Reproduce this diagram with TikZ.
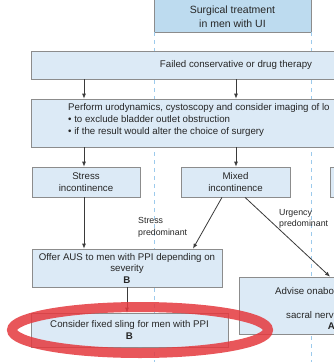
\documentclass[tikz,border=0pt]{standalone}
\usepackage{fontspec}
\setmainfont{Liberation Sans}
\usetikzlibrary{arrows.meta,calc}
\definecolor{boxfill}{HTML}{DCEAF6}
\definecolor{topfill}{HTML}{BDDBEF}
\definecolor{boxline}{HTML}{8C8C8C}
\definecolor{guideblue}{HTML}{9CCAEC}
\definecolor{txtcol}{HTML}{262626}
\definecolor{arrcol}{HTML}{3A3A3A}
\definecolor{hlred}{HTML}{E5393E}
\begin{document}
\begin{tikzpicture}[x=1pt,y=-1pt,
 box/.style={draw=boxline, fill=boxfill, line width=0.7pt, inner sep=0pt, align=center, text=txtcol, font=\fontsize{9.7}{11.5}\selectfont},
 txt/.style={inner sep=0pt, align=left, text=txtcol, font=\fontsize{9.7}{12}\selectfont},
 lbl/.style={inner sep=0pt, align=left, anchor=west, text=txtcol, font=\fontsize{8.8}{11.5}\selectfont},
 conn/.style={draw=arrcol, line width=0.8pt, -{Latex[length=5pt,width=4pt]}},
 guide/.style={draw=guideblue, line width=1.3pt, dash pattern=on 4pt off 4pt},
 ring/.style={draw=hlred, line width=10pt, draw opacity=0.85}]
\useasboundingbox (0,0) rectangle (334,362);
\fill[white] (0,0) rectangle (334,362);
\clip (0,0) rectangle (334,362);
% top box
\node[box, fill=topfill, minimum width=157pt, minimum height=44pt] (top) at (232.5,10) {};
\node[txt, align=center, font=\fontsize{10.5}{14}\selectfont] (toptext) at (232.5,17) {Surgical treatment\\in men with UI};
% guides
\draw[guide] ([xshift=1pt]top.south west) -- ++(0,330);
\draw[guide] (top.south east) -- ++(0,330);
% boxes
\node[box, minimum width=410pt, minimum height=28pt] (failed) at (236,65) {Failed conservative or drug therapy};
\node[box, minimum width=410pt, minimum height=48pt] (perform) at (236,123) {};
\node[txt, anchor=west] (ptext) at (68,120) {Perform urodynamics, cystoscopy and consider imaging of lo\\\textbullet\ to exclude bladder outlet obstruction\\\textbullet\ if the result would alter the choice of surgery};
\node[box, minimum width=108pt, minimum height=30pt] (stress) at (86,182) {Stress\\incontinence};
\node[box, minimum width=109pt, minimum height=30pt] (mixed) at (235.5,182) {Mixed\\incontinence};
\node[box, minimum width=109pt, minimum height=30pt] (urge) at (384.5,182) {};
\node[box, minimum width=190pt, minimum height=38pt] (offer) at (127,268) {Offer AUS to men with PPI depending on\\severity\\\textbf{B}};
\node[box, minimum width=197pt, minimum height=34pt] (sling) at (129.5,330) {Consider fixed sling for men with PPI\\\textbf{B}};
\node[box, minimum width=184pt, minimum height=57pt] (advise) at (331,305.5) {};
\node[txt, anchor=west] (adv1) at (275,291) {Advise onabo};
\node[txt, anchor=west] (adv2) at (286,315) {sacral nerv};
\node[txt, font=\fontsize{9.7}{12}\selectfont\bfseries] (adv3) at (331.5,326) {A};
% labels
\node[lbl] (lstress) at (138,227.5) {Stress\\predominant};
\node[lbl] (lurge) at (279,219) {Urgency\\predominant};
% connectors
\draw[conn] ([xshift=-2pt]stress.north |- failed.south) -- ([xshift=-2pt]stress.north |- perform.north);
\draw[conn] ([xshift=0.5pt]mixed.north |- failed.south) -- ([xshift=0.5pt]mixed.north |- perform.north);
\draw[conn] ([xshift=-2pt]stress.north |- perform.south) -- ([xshift=-2pt]stress.north);
\draw[conn] ([xshift=0.5pt]mixed.north |- perform.south) -- ([xshift=0.5pt]mixed.north);
\draw[conn] ([xshift=-2pt]stress.south) -- ([xshift=-2pt]stress.south |- offer.north);
\draw[conn] ([xshift=-13.5pt]mixed.south) -- ([xshift=66pt]offer.north);
\draw[conn] ([xshift=9.5pt]mixed.south) -- ([xshift=-1pt]advise.north);
\draw[conn] (offer.south) -- (offer.south |- sling.north);
% highlight
\draw[ring] (140,330) ellipse [x radius=128pt, y radius=23pt];
\end{tikzpicture}
\end{document}
